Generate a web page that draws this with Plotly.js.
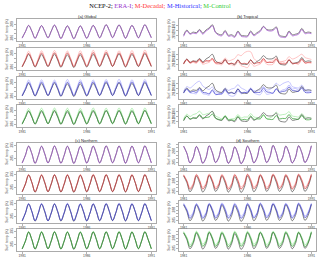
<!DOCTYPE html>
<html><head><meta charset="utf-8">
<script src="https://cdn.plot.ly/plotly-3.0.1.min.js"></script>
<style>html,body{margin:0;padding:0;background:#fff}#chart{width:320px;height:259px}</style>
</head><body><div id="chart"></div>
<script>
// time axis (seasonal samples, years)
const time = [1981,1981.25,1981.5,1981.75,1982,1982.25,1982.5,1982.75,1983,1983.25,1983.5,1983.75,
 1984,1984.25,1984.5,1984.75,1985,1985.25,1985.5,1985.75,1986,1986.25,1986.5,1986.75,
 1987,1987.25,1987.5,1987.75,1988,1988.25,1988.5,1988.75,1989,1989.25,1989.5,1989.75,
 1990,1990.25,1990.5,1990.75,1991];
const yearTicks = [1981, 1986, 1991];
const yearTickText = ['1981', '1986', '1991'];
const yTitle = 'Surf. temp. (K)';
const panelTitles = ['(a) Global', '(b) Tropical', '(c) Northern', '(d) Southern'];
const seriesNames = ['NCEP-2', 'ERA-I', 'M-Decadal', 'M-Historical', 'M-Control'];

// ---------- Global ----------
const globalNCEP = [286.10,287.45,288.80,287.55, 286.05,287.40,288.75,287.50, 286.15,287.55,288.85,287.55, 286.00,287.40,288.70,287.45, 285.95,287.35,288.70,287.45,
 286.05,287.45,288.80,287.60, 286.15,287.55,288.95,287.70, 286.20,287.60,288.90,287.60, 286.05,287.45,288.80,287.60, 286.15,287.60,288.95,287.70, 286.15];
const globalERA = [286.00,287.40,288.80,287.50, 285.95,287.35,288.75,287.45, 286.05,287.50,288.90,287.50, 285.90,287.35,288.70,287.40, 285.85,287.30,288.70,287.40,
 285.95,287.40,288.80,287.55, 286.05,287.50,288.95,287.65, 286.10,287.55,288.90,287.55, 285.95,287.40,288.80,287.55, 286.05,287.55,288.95,287.65, 286.05];
const globalDecMean = [286.10,287.55,289.00,287.70, 286.15,287.60,289.10,287.75, 286.20,287.65,289.15,287.80, 286.15,287.65,289.10,287.75, 286.10,287.60,289.05,287.70,
 286.20,287.70,289.20,287.80, 286.25,287.75,289.25,287.85, 286.20,287.70,289.15,287.80, 286.15,287.65,289.10,287.75, 286.25,287.75,289.20,287.85, 286.20];
const globalDecMember = [286.20,287.80,289.50,287.95, 286.35,287.95,289.60,288.05, 286.40,288.00,289.65,288.05, 286.30,287.90,289.55,288.00, 286.35,287.95,289.60,288.05,
 286.40,288.00,289.70,288.10, 286.45,288.05,289.70,288.10, 286.35,287.95,289.60,288.00, 286.40,288.00,289.65,288.05, 286.45,288.05,289.75,288.15, 286.40];
const globalHistMean = [286.05,287.50,289.05,287.65, 286.10,287.55,289.10,287.70, 286.15,287.60,289.10,287.75, 286.05,287.55,289.05,287.70, 286.10,287.60,289.15,287.75,
 286.15,287.65,289.15,287.75, 286.20,287.70,289.20,287.80, 286.15,287.60,289.10,287.70, 286.10,287.60,289.15,287.75, 286.20,287.70,289.20,287.80, 286.15];
const globalHistMember = [286.25,287.85,289.55,287.95, 286.35,287.90,289.60,288.00, 286.30,287.90,289.55,287.95, 286.40,287.95,289.65,288.05, 286.35,287.95,289.60,288.00,
 286.30,287.90,289.55,287.95, 286.40,288.00,289.65,288.05, 286.45,288.05,289.70,288.10, 286.35,287.95,289.60,288.00, 286.40,288.00,289.65,288.05, 286.35];
const globalCtrlMean = [286.00,287.45,288.95,287.60, 286.05,287.50,289.00,287.65, 286.10,287.55,289.05,287.70, 286.05,287.50,289.00,287.60, 286.00,287.45,288.95,287.60,
 286.10,287.55,289.05,287.70, 286.05,287.50,289.00,287.65, 286.10,287.55,289.05,287.65, 286.05,287.50,289.00,287.65, 286.10,287.55,289.05,287.70, 286.05];
const globalCtrlMember = [286.25,287.80,289.45,287.90, 286.30,287.85,289.50,287.95, 286.35,287.90,289.55,288.00, 286.30,287.85,289.50,287.95, 286.25,287.80,289.45,287.90,
 286.35,287.90,289.55,288.00, 286.30,287.85,289.50,287.95, 286.35,287.90,289.55,288.00, 286.30,287.85,289.50,287.95, 286.35,287.90,289.55,288.00, 286.30];

// ---------- Tropical ----------
const tropNCEP = [299.05,299.55,299.20,299.35, 299.30,299.60,299.25,299.55, 299.75,300.05,299.35,299.15, 299.10,299.50,299.05,299.10, 298.95,299.45,299.05,299.00,
 299.00,299.45,299.10,299.30, 299.50,299.90,299.60,299.55, 299.60,299.85,299.05,298.95, 298.95,299.45,299.10,299.15, 299.25,299.70,299.30,299.35, 299.30];
const tropERA = [298.95,299.45,299.15,299.25, 299.20,299.50,299.15,299.45, 299.65,299.95,299.30,299.05, 299.00,299.40,298.95,299.00, 298.85,299.35,298.95,298.90,
 298.90,299.35,299.00,299.20, 299.40,299.85,299.55,299.45, 299.50,299.75,298.95,298.85, 298.85,299.35,299.00,299.05, 299.15,299.60,299.20,299.25, 299.20];
const tropDecMean = [299.05,299.50,299.15,299.30, 299.20,299.50,299.15,299.35, 299.35,299.60,299.15,299.15, 299.10,299.50,299.05,299.10, 299.05,299.45,299.05,299.10,
 299.05,299.45,299.05,299.15, 299.20,299.60,299.20,299.20, 299.20,299.55,299.10,299.05, 299.05,299.45,299.05,299.10, 299.15,299.55,299.15,299.20, 299.20];
const tropDecMember1 = [299.10,299.55,299.20,299.35, 299.30,299.55,299.20,299.40, 299.30,299.50,299.10,299.20, 299.25,299.65,299.35,299.45, 299.60,300.00,299.90,300.20,
 300.35,300.30,299.60,299.30, 299.05,299.40,299.00,298.95, 299.00,299.45,299.15,299.30, 299.40,299.80,299.55,299.65, 299.85,300.05,299.70,299.60, 299.50];
const tropDecMember2 = [299.00,299.45,299.10,299.20, 299.10,299.40,299.00,299.10, 299.20,299.50,299.05,299.00, 298.95,299.40,299.00,298.95, 298.85,299.30,298.85,298.75,
 298.65,299.15,298.80,298.90, 299.05,299.50,299.20,299.30, 299.35,299.70,299.30,299.25, 299.10,299.55,299.15,299.10, 299.00,299.45,299.10,299.15, 299.10];
const tropHistMean = [299.05,299.45,299.10,299.20, 299.10,299.50,299.10,299.05, 298.95,299.35,298.90,298.90, 298.95,299.40,299.00,299.05, 299.00,299.45,299.05,299.10,
 299.05,299.45,299.10,299.10, 299.10,299.55,299.15,299.10, 299.00,299.45,299.10,299.20, 299.25,299.65,299.30,299.25, 299.20,299.55,299.10,299.05, 299.10];
const tropHistMember1 = [299.20,299.70,299.55,299.80, 300.10,300.25,299.75,299.55, 299.40,299.65,299.15,299.10, 298.90,299.30,298.85,298.70, 298.75,299.25,298.95,299.05,
 299.15,299.55,299.25,299.30, 299.35,299.70,299.35,299.40, 299.65,300.05,299.80,300.00, 300.15,300.20,299.70,299.60, 299.55,299.85,299.40,299.35, 299.30];
const tropHistMember2 = [299.00,299.40,299.05,299.00, 298.95,299.35,298.95,298.90, 298.80,299.25,298.85,298.95, 299.10,299.55,299.30,299.45, 299.55,299.90,299.55,299.40,
 299.20,299.50,299.05,298.90, 298.85,299.30,298.90,298.95, 299.05,299.50,299.20,299.35, 299.45,299.85,299.45,299.50, 299.35,299.70,299.25,299.20, 299.15];
const tropCtrlMean = [299.10,299.55,299.25,299.35, 299.35,299.70,299.35,299.40, 299.45,299.75,299.30,299.20, 299.15,299.55,299.15,299.15, 299.10,299.50,299.15,299.20,
 299.15,299.55,299.20,299.25, 299.25,299.65,299.25,299.20, 299.20,299.60,299.25,299.30, 299.30,299.70,299.30,299.25, 299.20,299.60,299.20,299.15, 299.20];
const tropCtrlMember = [299.25,299.75,299.50,299.70, 299.80,300.05,299.70,299.75, 299.85,300.00,299.55,299.40, 299.25,299.60,299.20,299.25, 299.30,299.70,299.35,299.45,
 299.45,299.80,299.45,299.40, 299.35,299.70,299.30,299.35, 299.55,299.95,299.65,299.70, 299.75,300.00,299.55,299.50, 299.45,299.80,299.45,299.40, 299.35];

// ---------- Northern ----------
const northNCEP = [281.50,287.40,294.30,288.60, 281.30,287.20,294.20,288.40, 281.60,287.50,294.40,288.50, 281.40,287.30,294.20,288.40, 281.20,287.20,294.10,288.30,
 281.50,287.40,294.30,288.50, 281.60,287.50,294.50,288.70, 281.70,287.60,294.40,288.60, 281.40,287.40,294.30,288.60, 281.70,287.70,294.50,288.80, 281.60];
const northERA = [281.30,287.30,294.30,288.50, 281.10,287.10,294.20,288.30, 281.40,287.40,294.40,288.40, 281.20,287.20,294.20,288.30, 281.00,287.10,294.10,288.20,
 281.30,287.30,294.30,288.40, 281.40,287.40,294.50,288.60, 281.50,287.50,294.40,288.50, 281.20,287.30,294.30,288.50, 281.50,287.60,294.50,288.70, 281.40];
const northDecMean = [281.60,287.50,294.40,288.70, 281.50,287.40,294.30,288.60, 281.70,287.60,294.50,288.70, 281.60,287.50,294.40,288.60, 281.50,287.40,294.30,288.60,
 281.70,287.60,294.50,288.70, 281.80,287.70,294.60,288.80, 281.70,287.60,294.50,288.70, 281.60,287.50,294.40,288.70, 281.80,287.70,294.60,288.80, 281.70];
const northDecMember = [281.80,287.80,294.80,289.00, 281.90,287.90,294.90,289.00, 282.00,287.90,294.80,289.10, 281.80,287.80,294.90,289.00, 281.90,287.90,294.80,289.00,
 282.00,288.00,295.00,289.10, 281.90,287.90,294.90,289.10, 282.10,288.00,295.00,289.20, 281.90,287.90,294.90,289.00, 282.00,288.00,295.00,289.10, 281.90];
const northHistMean = [281.50,287.40,294.40,288.60, 281.60,287.50,294.40,288.70, 281.50,287.40,294.30,288.60, 281.70,287.60,294.50,288.70, 281.60,287.50,294.40,288.60,
 281.50,287.40,294.40,288.60, 281.70,287.60,294.50,288.70, 281.80,287.70,294.60,288.80, 281.60,287.50,294.40,288.70, 281.70,287.60,294.50,288.70, 281.60];
const northHistMember = [281.90,287.80,294.80,289.00, 282.00,287.90,294.90,289.10, 281.90,287.80,294.80,289.00, 282.10,288.00,295.00,289.10, 282.00,287.90,294.90,289.00,
 281.90,287.80,294.80,289.00, 282.10,288.00,295.00,289.10, 282.20,288.10,295.10,289.20, 282.00,287.90,294.90,289.10, 282.10,288.00,295.00,289.10, 282.00];
const northCtrlMean = [281.40,287.30,294.30,288.50, 281.50,287.40,294.40,288.60, 281.60,287.50,294.40,288.60, 281.50,287.40,294.30,288.50, 281.40,287.30,294.30,288.50,
 281.60,287.50,294.40,288.60, 281.50,287.40,294.40,288.60, 281.60,287.50,294.50,288.60, 281.50,287.40,294.30,288.50, 281.60,287.50,294.40,288.60, 281.50];
const northCtrlMember = [281.80,287.70,294.70,288.90, 281.90,287.80,294.80,289.00, 282.00,287.90,294.90,289.00, 281.90,287.80,294.80,288.90, 281.80,287.70,294.70,288.90,
 282.00,287.90,294.90,289.00, 281.90,287.80,294.80,289.00, 282.00,287.90,294.90,289.00, 281.90,287.80,294.80,288.90, 282.00,287.90,294.90,289.00, 281.90];

// ---------- Southern ----------
const southNCEP = [289.50,287.60,284.90,286.40, 289.40,287.50,284.80,286.30, 289.60,287.70,285.00,286.40, 289.40,287.50,284.80,286.30, 289.30,287.40,284.70,286.20,
 289.50,287.60,284.90,286.40, 289.60,287.70,285.00,286.50, 289.70,287.70,285.00,286.40, 289.50,287.60,284.90,286.40, 289.60,287.70,285.00,286.50, 289.60];
const southERA = [289.45,287.55,284.85,286.35, 289.35,287.45,284.75,286.25, 289.55,287.65,284.95,286.35, 289.35,287.45,284.75,286.25, 289.25,287.35,284.65,286.15,
 289.45,287.55,284.85,286.35, 289.55,287.65,284.95,286.45, 289.65,287.65,284.95,286.35, 289.45,287.55,284.85,286.35, 289.55,287.65,284.95,286.45, 289.55];
const southDecMean = [289.70,288.00,285.60,286.90, 289.80,288.10,285.70,287.00, 289.80,288.10,285.70,286.90, 289.70,288.00,285.60,286.90, 289.80,288.10,285.70,287.00,
 289.90,288.20,285.80,287.00, 289.80,288.10,285.70,287.00, 289.90,288.20,285.80,287.10, 289.80,288.10,285.70,287.00, 289.90,288.20,285.80,287.10, 289.90];
const southDecMember = [289.90,288.30,286.10,287.30, 290.00,288.40,286.20,287.40, 290.10,288.40,286.20,287.30, 290.00,288.30,286.10,287.30, 290.00,288.40,286.30,287.40,
 290.10,288.50,286.30,287.40, 290.00,288.40,286.20,287.40, 290.10,288.50,286.30,287.50, 290.00,288.40,286.20,287.40, 290.10,288.50,286.30,287.50, 290.10];
const southHistMean = [289.70,288.00,285.60,286.90, 289.70,288.00,285.60,286.90, 289.80,288.10,285.70,287.00, 289.80,288.10,285.70,287.00, 289.70,288.00,285.60,286.90,
 289.80,288.10,285.70,287.00, 289.90,288.20,285.80,287.10, 289.80,288.10,285.70,287.00, 289.80,288.10,285.70,287.00, 289.90,288.20,285.80,287.10, 289.80];
const southHistMember = [290.00,288.40,286.20,287.40, 289.90,288.30,286.10,287.30, 290.00,288.40,286.20,287.40, 290.10,288.50,286.30,287.50, 290.00,288.40,286.20,287.40,
 290.00,288.30,286.10,287.30, 290.10,288.50,286.30,287.50, 290.10,288.40,286.20,287.40, 290.00,288.40,286.20,287.40, 290.10,288.50,286.30,287.50, 290.00];
const southCtrlMean = [289.60,287.90,285.50,286.80, 289.70,288.00,285.60,286.90, 289.70,288.00,285.60,286.90, 289.60,287.90,285.50,286.80, 289.70,288.00,285.60,286.90,
 289.70,288.00,285.60,286.90, 289.60,287.90,285.50,286.80, 289.70,288.00,285.60,286.90, 289.70,288.00,285.60,286.90, 289.60,287.90,285.50,286.80, 289.70];
const southCtrlMember = [289.90,288.30,286.10,287.30, 290.00,288.40,286.20,287.40, 290.00,288.30,286.10,287.30, 289.90,288.30,286.10,287.30, 290.00,288.40,286.20,287.40,
 290.00,288.40,286.20,287.40, 289.90,288.30,286.10,287.30, 290.00,288.40,286.20,287.40, 290.00,288.40,286.20,287.40, 289.90,288.30,286.10,287.30, 290.00];

// y tick labels per region
const globalTicks = [286, 287, 288, 289];      const globalTickText = ['286', '', '', '289'];
const tropTicks = [299, 299.5, 300];           const tropTickText = ['299.0', '299.5', '300.0'];
const northTicks = [285, 290, 295];            const northTickText = ['285', '', '295'];
const southTicks = [285, 286, 287, 288, 289, 290]; const southTickText = ['285', '', '', '288', '', ''];

// ---------- layout / styling ----------
const W = 320, H = 259;
const colX = [[17, 156.5], [178.5, 316.5]];
const rowY = [[[19, 41], [48, 70], [77, 99], [105, 127]],
              [[143, 165], [172, 194], [201, 223], [229, 251]]];

const C = {
  ncep: '#505050', era: '#a24fd0',
  decD: '#cc3030', decL: '#ff9d9d',
  histD: '#3a3acc', histL: '#a0a0ff',
  ctrlD: '#2a9c2a', ctrlL: '#8fe68f'
};

const regions = [
  {col: 0, block: 0, title: panelTitles[0], ncep: globalNCEP, era: globalERA,
   models: [[globalDecMean, [globalDecMember]], [globalHistMean, [globalHistMember]], [globalCtrlMean, [globalCtrlMember]]],
   ranges: [[285.4, 290.2], [285.4, 290.2], [285.4, 290.2], [285.4, 290.2]], tv: globalTicks, tt: globalTickText, tf: 3.4},
  {col: 1, block: 0, title: panelTitles[1], ncep: tropNCEP, era: tropERA,
   models: [[tropDecMean, [tropDecMember1, tropDecMember2]], [tropHistMean, [tropHistMember1, tropHistMember2]], [tropCtrlMean, [tropCtrlMember]]],
   ranges: [[298.5, 300.6], [298.4, 300.7], [298.4, 300.7], [298.4, 300.7]], tv: tropTicks, tt: tropTickText, tf: 2.6},
  {col: 0, block: 1, title: panelTitles[2], ncep: northNCEP, era: northERA,
   models: [[northDecMean, [northDecMember]], [northHistMean, [northHistMember]], [northCtrlMean, [northCtrlMember]]],
   ranges: [[279.9, 296.7], [279.9, 296.7], [279.9, 296.7], [279.9, 296.7]], tv: northTicks, tt: northTickText, tf: 3.4},
  {col: 1, block: 1, title: panelTitles[3], ncep: southNCEP, era: southERA,
   models: [[southDecMean, [southDecMember]], [southHistMean, [southHistMember]], [southCtrlMean, [southCtrlMember]]],
   ranges: [[284.3, 290.35], [284.25, 290.65], [284.25, 290.65], [284.25, 290.65]], tv: southTicks, tt: southTickText, tf: 3.4}
];
const modelColors = [[C.decD, C.decL], [C.histD, C.histL], [C.ctrlD, C.ctrlL]];

const traces = [];
const layout = {
  width: W, height: H, margin: {l: 0, r: 0, t: 0, b: 0},
  paper_bgcolor: '#fff', plot_bgcolor: '#fff', showlegend: false,
  font: {family: 'Liberation Sans, Arial, sans-serif', size: 3.6, color: '#222'},
  title: {
    text: '<span style="color:#000">NCEP-2;</span> <span style="color:#9933cc">ERA-I;</span> ' +
          '<span style="color:#ff3333">M-Decadal;</span> <span style="color:#3333ff">M-Historical;</span> ' +
          '<span style="color:#33cc33">M-Control</span>',
    font: {family: 'Liberation Serif, Times New Roman, serif', size: 6.4, color: '#000'},
    x: 0.5, xanchor: 'center', y: 1 - 5.6 / H, yanchor: 'middle'
  },
  annotations: []
};

let k = 0;
regions.forEach(reg => {
  for (let r = 0; r < 4; r++) {
    k++;
    const xa = 'x' + (k === 1 ? '' : k), ya = 'y' + (k === 1 ? '' : k);
    const xk = 'xaxis' + (k === 1 ? '' : k), yk = 'yaxis' + (k === 1 ? '' : k);
    const [x0, x1] = colX[reg.col];
    const [t0, t1] = rowY[reg.block][r];
    layout[xk] = {
      domain: [x0 / W, x1 / W], anchor: ya, range: [1980.6, 1991.4],
      tickvals: yearTicks, ticktext: yearTickText, ticks: 'outside', ticklen: 1.8, tickwidth: 0.5, tickcolor: '#666',
      showline: true, mirror: true, linecolor: '#888', linewidth: 0.7, showgrid: false, zeroline: false,
      tickfont: {size: 3.3, color: '#444'}
    };
    layout[yk] = {
      domain: [1 - t1 / H, 1 - t0 / H], anchor: xa, range: reg.ranges[r],
      tickvals: reg.tv, ticktext: reg.tt, ticks: 'outside', ticklen: 1.8, tickwidth: 0.5, tickcolor: '#666',
      tickangle: -90, showline: true, mirror: true, linecolor: '#888', linewidth: 0.7, showgrid: false, zeroline: false,
      tickfont: {size: reg.tf, color: '#444'},
      title: {text: yTitle, font: {size: 3.3, color: '#444'}, standoff: 1}
    };
    const line = (y, color, w, name) => traces.push({
      type: 'scatter', mode: 'lines', x: time, y: y, xaxis: xa, yaxis: ya, name: name,
      line: {color: color, width: w, shape: 'spline', smoothing: 1}, hoverinfo: 'skip'
    });
    if (r === 0) {
      line(reg.ncep, C.ncep, 0.7, seriesNames[0]);
      line(reg.era, C.era, 0.7, seriesNames[1]);
    } else {
      const [mean, members] = reg.models[r - 1];
      const [dk, lt] = modelColors[r - 1];
      members.forEach(m => line(m, lt, 0.6, seriesNames[r + 1] + ' member'));
      line(reg.ncep, C.ncep, 0.7, seriesNames[0]);
      line(mean, dk, 0.7, seriesNames[r + 1]);
    }
  }
  const [x0, x1] = colX[reg.col];
  layout.annotations.push({
    text: reg.title, xref: 'paper', yref: 'paper', x: (x0 + x1) / 2 / W, y: 1 - (rowY[reg.block][0][0] - 2.2) / H,
    xanchor: 'center', yanchor: 'middle', showarrow: false, font: {size: 4.2, color: '#222'}
  });
});

Plotly.newPlot('chart', traces, layout, {staticPlot: true, displayModeBar: false});
</script>
</body></html>
